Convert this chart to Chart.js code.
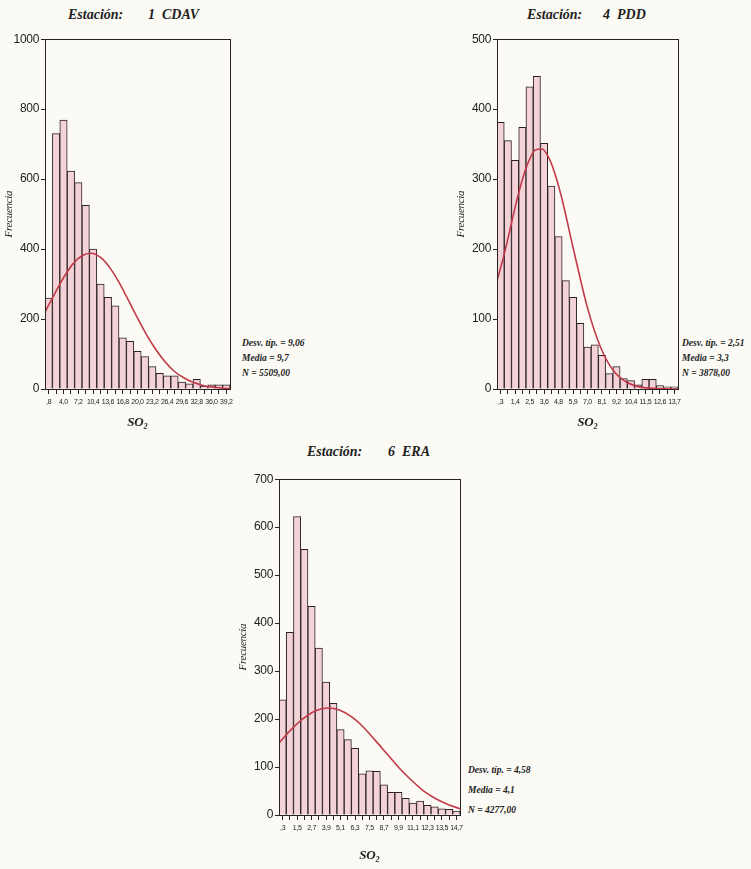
<!DOCTYPE html>
<html>
<head>
<meta charset="utf-8">
<script src="https://cdn.jsdelivr.net/npm/chart.js@4.4.1/dist/chart.umd.min.js"></script>
<style>
  body { margin: 0; background: #fbfaf5; width: 751px; height: 869px; position: relative; overflow: hidden; }
  canvas { position: absolute; }
  .title { position: absolute; font-family: 'Liberation Serif', serif; font-style: italic; font-weight: bold; font-size: 14px; color: #222; white-space: pre; line-height: 16px; }
  .stats { position: absolute; font-family: 'Liberation Serif', serif; font-style: italic; font-weight: bold; font-size: 9.5px; color: #222; white-space: pre; }
</style>
</head>
<body>
<div class="title" style="left:68px; top:7px;">Estación:</div>
<div class="title" style="left:148px; top:7px;">1  CDAV</div>
<div class="title" style="left:527px; top:7px;">Estación:</div>
<div class="title" style="left:603px; top:7px;">4  PDD</div>
<div class="title" style="left:307px; top:444px;">Estación:</div>
<div class="title" style="left:388px; top:444px;">6  ERA</div>

<div class="stats" style="left:242px; top:336px; line-height:15px;">Desv. típ. = 9,06
Media = 9,7
N = 5509,00</div>
<div class="stats" style="left:682px; top:336px; line-height:15px;">Desv. típ. = 2,51
Media = 3,3
N = 3878,00</div>
<div class="stats" style="left:468px; top:760px; line-height:20px;">Desv. típ. = 4,58
Media = 4,1
N = 4277,00</div>

<canvas id="c1" width="240" height="400" style="left:0px; top:30px;"></canvas>
<canvas id="c2" width="236" height="400" style="left:452px; top:30px;"></canvas>
<canvas id="c3" width="236" height="393" style="left:234px; top:470px;"></canvas>

<script>
// Estación 1 CDAV
const cdavTicks = [',8', '4,0', '7,2', '10,4', '13,6', '16,8', '20,0', '23,2', '26,4', '29,6', '32,8', '36,0', '39,2'];
const cdavFreq = [260, 730, 769, 623, 590, 525, 400, 300, 262, 238, 146, 136, 108, 93, 64, 45, 38, 38, 20, 15, 28, 8, 12, 12, 12];
const cdavCurveX = [0, 2, 4, 6, 8, 10, 12, 14, 16, 18, 20, 22, 24, 26, 28, 30, 32, 34, 36, 38, 40];
const cdavCurveY = [220, 270, 318, 357, 381, 388, 376, 347, 305, 255, 203, 154, 112, 77, 50, 32, 19, 11, 6, 3, 1];

// Estación 4 PDD
const pddTicks = [',3', '1,4', '2,5', '3,6', '4,8', '5,9', '7,0', '8,1', '9,2', '10,4', '11,5', '12,6', '13,7'];
const pddFreq = [381, 355, 327, 374, 432, 447, 351, 290, 218, 155, 131, 94, 60, 63, 48, 22, 32, 15, 12, 6, 14, 14, 5, 3, 3];
const pddCurveX = [0.02, 0.5, 1, 1.5, 2, 2.5, 3, 3.5, 4, 4.5, 5, 6, 7, 8, 9, 10, 11, 12, 13, 13.98];
const pddCurveY = [155, 187, 226, 266, 301, 327, 342, 343, 331, 307, 274, 193, 116, 60, 26, 10, 3, 1, 0.3, 0];

// Estación 6 ERA
const eraTicks = [',3', '1,5', '2,7', '3,9', '5,1', '6,3', '7,5', '8,7', '9,9', '11,1', '12,3', '13,5', '14,7'];
const eraFreq = [240, 381, 622, 554, 435, 348, 277, 233, 178, 157, 139, 86, 92, 91, 63, 47, 47, 35, 25, 29, 20, 17, 13, 12, 8];
const eraCurveX = [0, 1, 2, 3, 4, 5, 6, 7, 8, 9, 10, 11, 12, 13, 14, 15];
const eraCurveY = [150, 178, 201, 217, 223, 219, 205, 183, 155, 126, 97, 72, 50, 34, 22, 13];

const INK = '#2a2222';

// box round the plot area, tighter lettering for the narrow SPSS-style labels
const framePlugin = {
    id: 'frame',
    beforeDraw(chart) {
        chart.ctx.letterSpacing = '-0.3px';
    },
    afterDraw(chart) {
        const a = chart.chartArea;
        const ctx = chart.ctx;
        ctx.save();
        ctx.strokeStyle = INK;
        ctx.lineWidth = 1;
        ctx.strokeRect(Math.round(a.left) + 0.5, Math.round(a.top) + 0.5, Math.round(a.right - a.left), Math.round(a.bottom - a.top));
        ctx.restore();
        ctx.letterSpacing = '0px';
    }
};

// x axis runs in bar-index units: bar i sits at x = i
function makeHist(id, ticks, freq, curveX, curveY, xMin, xMax, yMax, yStep, plotH) {
    const nBars = freq.length;
    const bars = freq.map((v, i) => ({ x: i, y: v }));
    const curve = curveX.map((x, i) => ({ x: (x - xMin) / (xMax - xMin) * nBars - 0.5, y: curveY[i] }));

    return new Chart(document.getElementById(id), {
        type: 'bar',
        data: {
            datasets: [{
                type: 'line',
                data: curve,
                borderColor: '#c23a48',
                borderWidth: 1.6,
                pointRadius: 0,
                cubicInterpolationMode: 'monotone',
                fill: false,
                order: 0
            }, {
                type: 'bar',
                data: bars,
                backgroundColor: '#f3d3d8',
                borderColor: INK,
                borderWidth: 1,
                barPercentage: 1,
                categoryPercentage: 1,
                grouped: false,
                order: 1
            }]
        },
        options: {
            responsive: false,
            animation: false,
            devicePixelRatio: 1,
            layout: { padding: { top: 7, right: 10, left: 0, bottom: 0 } },
            plugins: { legend: { display: false }, tooltip: { enabled: false } },
            scales: {
                x: {
                    type: 'linear',
                    min: -0.5, max: nBars - 0.5,
                    offset: false,
                    afterBuildTicks(scale) { scale.ticks = freq.map((v, i) => ({ value: i })); },
                    grid: { display: true, drawOnChartArea: false, offset: false, tickLength: 5, color: INK },
                    border: { display: true, color: INK },
                    ticks: {
                        autoSkip: false, maxRotation: 0, minRotation: 0, padding: 4,
                        color: '#222',
                        callback: (val, idx) => (idx % 2 === 0 ? ticks[idx / 2] : ''),
                        font: { family: "'Liberation Sans Narrow', 'Liberation Sans', sans-serif", size: 7 }
                    },
                    title: {
                        display: true, text: 'SO₂', color: '#222', padding: { top: 6, bottom: 0 },
                        font: { family: "'Liberation Serif', serif", style: 'italic', weight: 'bold', size: 13 }
                    },
                    afterFit(scale) { scale.height = 393 - 7 - plotH; }
                },
                y: {
                    min: 0, max: yMax,
                    grid: { display: true, drawOnChartArea: false, tickLength: 4, color: INK },
                    border: { display: true, color: INK },
                    ticks: {
                        stepSize: yStep, padding: 2, color: '#222',
                        callback: (v) => String(v),
                        font: { family: "'Liberation Sans', sans-serif", size: 12 }
                    },
                    title: {
                        display: true, text: 'Frecuencia', color: '#222', padding: { top: 3, bottom: 1 },
                        font: { family: "'Liberation Serif', serif", style: 'italic', size: 11 }
                    },
                    afterFit(scale) { scale.width = 45; }
                }
            }
        },
        plugins: [framePlugin]
    });
}

makeHist('c1', cdavTicks, cdavFreq, cdavCurveX, cdavCurveY, 0, 40, 1000, 200, 345);
makeHist('c2', pddTicks, pddFreq, pddCurveX, pddCurveY, 0.02, 13.98, 500, 100, 345);
makeHist('c3', eraTicks, eraFreq, eraCurveX, eraCurveY, 0, 15, 700, 100, 338);
</script>
</body>
</html>
